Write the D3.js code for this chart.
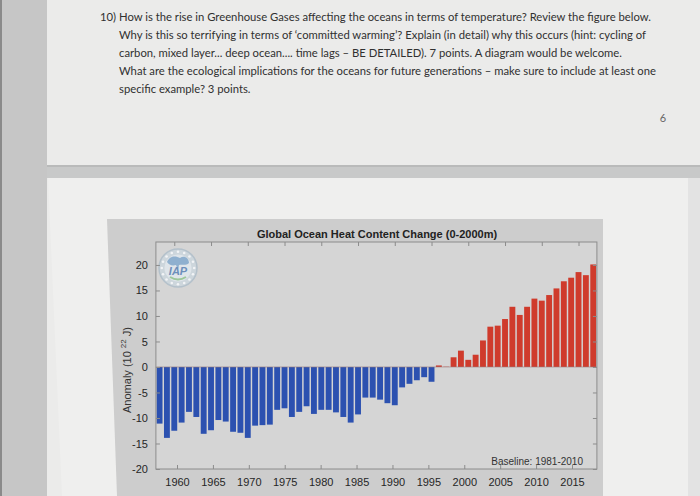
<!DOCTYPE html>
<html>
<head>
<meta charset="utf-8">
<script src="https://cdn.jsdelivr.net/npm/d3@7"></script>
<style>
  body { margin: 0; background: #ebebea; }
  svg { display: block; }
</style>
</head>
<body>
<svg id="photo"></svg>
<script>
// ---- data ----
const firstYear = 1958
const anomaly = [
  -11.1, -13.9, -12.5, -10.9, -8.8, -9.8, -13.1, -12.4, -10.4, -10.7,
  -12.7, -12.9, -13.9, -11.5, -11.4, -11.3, -8.4, -8.1, -9.8, -8.8,
  -7.7, -9.2, -8.4, -8.4, -8.9, -9.8, -10.9, -9.3, -6.0, -6.0,
  -6.4, -7.1, -7.5, -4.0, -3.3, -2.6, -2.0, -2.9, 0.3, 0.05,
  1.9, 3.2, 1.4, 2.4, 5.2, 7.9, 8.1, 9.4, 11.8, 10.2,
  11.8, 13.4, 13.0, 14.1, 15.4, 16.8, 17.5, 18.6, 18.0, 20.1
]
const yearTicks = [1960, 1965, 1970, 1975, 1980, 1985, 1990, 1995, 2000, 2005, 2010, 2015]
const anomalyTicks = [-20, -15, -10, -5, 0, 5, 10, 15, 20]
const chartTitle = "Global Ocean Heat Content Change (0-2000m)"
const baselineNote = "Baseline: 1981-2010"
const questionLines = [
  "10) How is the rise in Greenhouse Gases affecting the oceans in terms of temperature? Review the figure below.",
  "Why is this so terrifying in terms of \u2018committed warming\u2019? Explain (in detail) why this occurs (hint: cycling of",
  "carbon, mixed layer... deep ocean.... time lags \u2013 BE DETAILED). 7 points. A diagram would be welcome.",
  "What are the ecological implications for the oceans for future generations \u2013 make sure to include at least one",
  "specific example? 3 points."
]
const pageNumber = "6"

const years = anomaly.map((v, i) => firstYear + i)

const width = 700, height = 496
const svg = d3.select("#photo").attr("width", width).attr("height", height)

// ---- the photographed paper ----
svg.append("rect").attr("width", width).attr("height", height).attr("fill", "#ebebea")
svg.append("rect").attr("x", 0).attr("y", 0).attr("width", 47).attr("height", height).attr("fill", "#c6c6c6")
svg.append("rect").attr("x", 0).attr("y", 0).attr("width", 2).attr("height", height).attr("fill", "#8a8a8a")
svg.append("rect").attr("x", 47).attr("y", 165).attr("width", width - 47).attr("height", 13).attr("fill", "#c8c9c9")
svg.append("rect").attr("x", 47).attr("y", 165).attr("width", width - 47).attr("height", 2).attr("fill", "#b9baba")
svg.append("path")
   .attr("d", "M48,178 L700,178 L700,496 L62,496 Z")
   .attr("fill", "#efefee")
svg.append("path")
   .attr("d", "M688,178 L700,178 L700,496 L688,496 Z")
   .attr("fill", "#e3e3e3")

// question text: one font size, fitted so the first line spans what the photo shows
const question = svg.append("g")
   .attr("font-family", "Lato, 'Open Sans', sans-serif")
   .attr("font-size", "12px")
   .attr("fill", "#303030")
question.selectAll("text")
   .data(questionLines)
   .join("text")
   .attr("x", (d, i) => i === 0 ? 100 : 119)
   .attr("y", (d, i) => 21 + i * 18)
   .text(d => d)
const firstLen = question.select("text").node().getComputedTextLength()
question.attr("font-size", (12 * 551 / firstLen).toFixed(2) + "px")

svg.append("text")
   .attr("x", 663).attr("y", 122)
   .attr("text-anchor", "middle")
   .attr("font-family", "Lato, 'Open Sans', sans-serif")
   .attr("font-size", "11px")
   .attr("fill", "#666")
   .text(pageNumber)

// ---- the chart on screen ----
svg.append("path")
   .attr("d", "M107,219 L603,219 L603,496 L117,496 Z")
   .attr("fill", "#cdcdcd")

const x = d3.scaleBand()
    .domain(years)
    .range([155.9, 596.9])
    .paddingInner(0.2)
    .paddingOuter(0.1)

const xYear = d3.scaleLinear()
    .domain([years[0], years[years.length - 1]])
    .range([x(years[0]) + x.bandwidth() / 2, x(years[years.length - 1]) + x.bandwidth() / 2])

// tick labels sit lower in the photo, where the screen looks a bit narrower
const xLabel = d3.scaleLinear().domain([1960, 2015]).range([177, 572])

const y = d3.scaleLinear().domain([-20, 24.5]).range([469, 242])

const [plotLeft, plotRight] = x.range()
const [plotBottom, plotTop] = y.range()

const chart = svg.append("g")
   .attr("font-family", "'Liberation Sans', Arial, sans-serif")

chart.append("rect")
   .attr("x", plotLeft).attr("y", plotTop)
   .attr("width", plotRight - plotLeft).attr("height", plotBottom - plotTop)
   .attr("fill", "#d5d5d5")

chart.append("g")
   .selectAll("rect")
   .data(years)
   .join("rect")
   .attr("x", d => x(d))
   .attr("width", x.bandwidth())
   .attr("y", (d, i) => y(Math.max(0, anomaly[i])))
   .attr("height", (d, i) => Math.abs(y(anomaly[i]) - y(0)))
   .attr("fill", (d, i) => anomaly[i] < 0 ? "#2c51b0" : "#cf3b2c")

chart.append("line")
   .attr("x1", plotLeft).attr("x2", plotRight)
   .attr("y1", y(0)).attr("y2", y(0))
   .attr("stroke", "#9a7a7a").attr("stroke-width", 0.6)

// IAP logo
const logo = chart.append("g").attr("transform", "translate(178,268)")
logo.append("circle").attr("r", 19).attr("fill", "#cdd6dc").attr("stroke", "#b4c1cb").attr("stroke-width", 1.5)
logo.append("circle").attr("r", 13.5).attr("fill", "#dfe5ea")
logo.selectAll("circle.dot")
   .data(d3.range(16))
   .join("circle")
   .attr("class", "dot")
   .attr("cx", d => 16.2 * Math.cos(d / 16 * 2 * Math.PI))
   .attr("cy", d => 16.2 * Math.sin(d / 16 * 2 * Math.PI))
   .attr("r", 1.3)
   .attr("fill", "#f2f4f6")
logo.append("path")
   .attr("d", "M-11,-6 C-8,-13 -2,-12 2,-10 C6,-13 11,-10 11,-5 C8,-2 4,-4 1,-3 L0,2 L-2,-3 C-6,-2 -9,-3 -11,-6 Z")
   .attr("fill", "#8fb0cf")
logo.append("text")
   .attr("x", 0).attr("y", 7)
   .attr("text-anchor", "middle")
   .attr("font-size", "11px").attr("font-weight", "bold").attr("font-style", "italic")
   .attr("fill", "#6d8fbb")
   .text("IAP")
logo.append("path")
   .attr("d", "M-8,9 Q0,14 8,9")
   .attr("stroke", "#9cc79a").attr("stroke-width", 2).attr("fill", "none")

// frame and axes
chart.append("rect")
   .attr("x", plotLeft).attr("y", plotTop)
   .attr("width", plotRight - plotLeft).attr("height", plotBottom - plotTop)
   .attr("fill", "none").attr("stroke", "#8c8c8c").attr("stroke-width", 1)

const styleAxis = g => {
  g.select(".domain").remove()
  g.selectAll(".tick line").attr("stroke", "#8c8c8c")
  g.selectAll("text").attr("fill", "#262626").attr("font-size", "11px")
}

chart.append("g")
   .attr("transform", `translate(${plotLeft},0)`)
   .call(d3.axisLeft(y).tickValues(anomalyTicks).tickSize(-4).tickPadding(8).tickFormat(d => String(d)))
   .call(styleAxis)
   .attr("font-family", null)

chart.append("g")
   .attr("transform", `translate(${plotRight},0)`)
   .call(d3.axisRight(y).tickValues(anomalyTicks).tickSize(-4).tickFormat(""))
   .call(styleAxis)

chart.append("g")
   .attr("transform", `translate(0,${plotTop})`)
   .call(d3.axisTop(xYear).tickValues(yearTicks).tickSize(-4).tickFormat(""))
   .call(styleAxis)

chart.append("g")
   .attr("transform", `translate(0,${plotBottom})`)
   .call(d3.axisBottom(xLabel).tickValues(yearTicks).tickSize(-4).tickPadding(9).tickFormat(d => String(d)))
   .call(styleAxis)
   .attr("font-family", null)

chart.append("text")
   .attr("x", 377).attr("y", 238)
   .attr("text-anchor", "middle")
   .attr("font-size", "11px").attr("font-weight", "bold")
   .attr("fill", "#222")
   .text(chartTitle)

chart.append("text")
   .attr("x", 583).attr("y", 465)
   .attr("text-anchor", "end")
   .attr("font-size", "10px")
   .attr("fill", "#333")
   .text(baselineNote)

const ylab = chart.append("text")
   .attr("transform", "translate(131,370) rotate(-90)")
   .attr("text-anchor", "middle")
   .attr("font-size", "11px")
   .attr("fill", "#333")
ylab.append("tspan").text("Anomaly (10 ")
ylab.append("tspan").attr("font-size", "8px").attr("dy", -5).text("22")
ylab.append("tspan").attr("dy", 5).text(" J)")
</script>
</body>
</html>
